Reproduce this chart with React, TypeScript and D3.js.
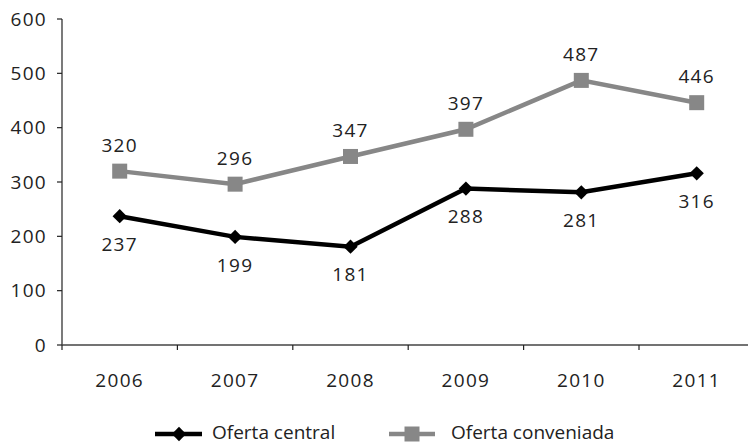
import React from "react";
import * as d3 from "d3";

const years = ["2006", "2007", "2008", "2009", "2010", "2011"];
const ofertaCentral = [237, 199, 181, 288, 281, 316];
const ofertaConveniada = [320, 296, 347, 397, 487, 446];
const yTicks = [0, 100, 200, 300, 400, 500, 600];

const W = 748;
const H = 446;
const FONT = "'Open Sans', 'DejaVu Sans', sans-serif";
const FS = 19;
const NUM_SPACING = 1.3;

export default function App() {
  const left = 62;
  const band = 115.4;
  const x = d3
    .scaleBand<string>()
    .domain(years)
    .range([left, left + band * years.length]);
  const y = d3.scaleLinear().domain([0, 600]).range([345, 19]);
  const cx = (yr: string) => (x(yr) as number) + x.bandwidth() / 2;

  const line = d3
    .line<number>()
    .x((_, i) => cx(years[i]))
    .y((v) => y(v));

  const diamond = d3.symbol(d3.symbolDiamond2, 130)();
  const numText = { fontSize: FS, fill: "#222", letterSpacing: NUM_SPACING };
  const legendY = 434;
  const legendTextY = 432;

  return (
    <svg
      width={W}
      height={H}
      style={{ position: "absolute", left: 0, top: 0, background: "#fff" }}
      fontFamily={FONT}
    >
      {/* y axis */}
      <line x1={left} x2={left} y1={y(600)} y2={y(0)} stroke="#222" strokeWidth={1.2} />
      {yTicks.map((t) => (
        <g key={t}>
          <line x1={left - 5} x2={left} y1={y(t)} y2={y(t)} stroke="#222" strokeWidth={1.2} />
          <text x={47} y={y(t)} dy="0.35em" textAnchor="end" {...numText}>
            {t}
          </text>
        </g>
      ))}
      {/* x axis */}
      <line x1={left} x2={W} y1={y(0)} y2={y(0)} stroke="#444" strokeWidth={1.5} />
      {years.map((yr) => (
        <g key={yr}>
          <line
            x1={x(yr) as number}
            x2={x(yr) as number}
            y1={y(0)}
            y2={y(0) + 5}
            stroke="#222"
            strokeWidth={1.2}
          />
          <text x={cx(yr)} y={380} dy="0.35em" textAnchor="middle" {...numText}>
            {yr}
          </text>
        </g>
      ))}

      {/* Oferta conveniada */}
      <path d={line(ofertaConveniada) || ""} fill="none" stroke="#878787" strokeWidth={4.5} />
      {ofertaConveniada.map((v, i) => (
        <g key={"c" + i}>
          <rect x={cx(years[i]) - 7.5} y={y(v) - 7.5} width={15} height={15} fill="#878787" />
          <text x={cx(years[i])} y={y(v) - 26} dy="0.35em" textAnchor="middle" {...numText}>
            {v}
          </text>
        </g>
      ))}

      {/* Oferta central */}
      <path d={line(ofertaCentral) || ""} fill="none" stroke="#000" strokeWidth={4.5} />
      {ofertaCentral.map((v, i) => (
        <g key={"o" + i}>
          <path d={diamond || ""} transform={`translate(${cx(years[i])},${y(v)})`} fill="#000" />
          <text x={cx(years[i])} y={y(v) + 28} dy="0.35em" textAnchor="middle" {...numText}>
            {v}
          </text>
        </g>
      ))}

      {/* legend */}
      <g>
        <line x1={155} x2={202} y1={legendY} y2={legendY} stroke="#000" strokeWidth={4.5} />
        <path d={diamond || ""} transform={`translate(179,${legendY})`} fill="#000" />
        <text x={212} y={legendTextY} dy="0.35em" fontSize={FS} fill="#222">
          Oferta central
        </text>
        <line x1={389} x2={435} y1={legendY} y2={legendY} stroke="#878787" strokeWidth={4.5} />
        <rect x={404.5} y={legendY - 7.5} width={15} height={15} fill="#878787" />
        <text x={451} y={legendTextY} dy="0.35em" fontSize={FS} fill="#222">
          Oferta conveniada
        </text>
      </g>
    </svg>
  );
}
